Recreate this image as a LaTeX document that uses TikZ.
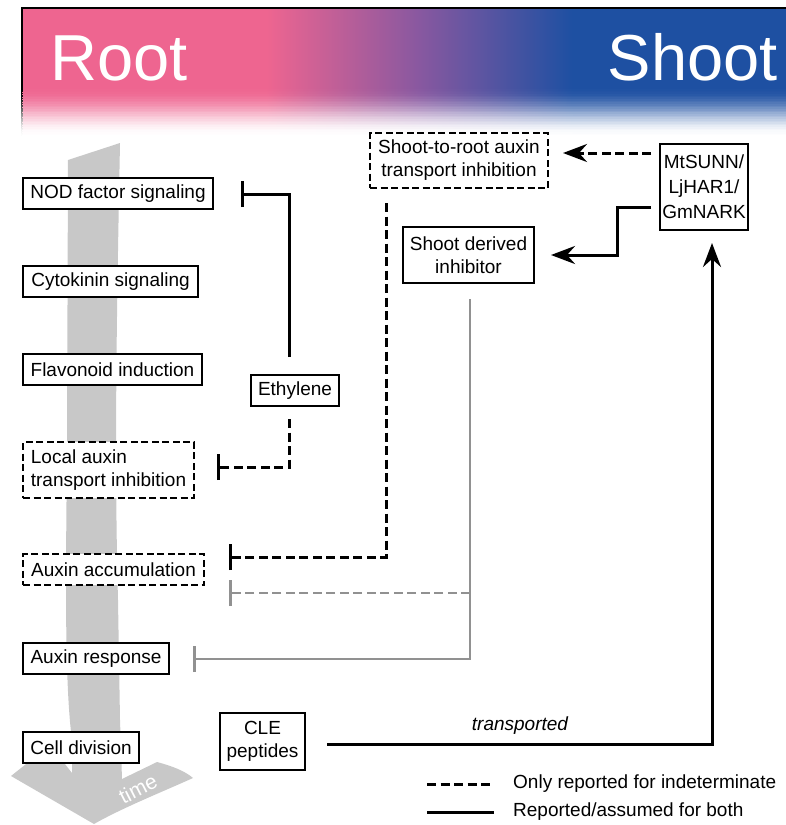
\documentclass[tikz,border=0pt]{standalone}
\usepackage{fontspec}
\setmainfont{Liberation Sans}
\usetikzlibrary{arrows.meta,calc}

\definecolor{rpink}{RGB}{238,101,144}
\definecolor{rpurple}{RGB}{136,88,160}
\definecolor{rblue}{RGB}{30,80,162}
\definecolor{tgray}{RGB}{200,200,200}
\definecolor{lgray}{RGB}{145,145,145}

\pgfdeclarehorizontalshading{rootshoot}{100bp}{color(0bp)=(rpink); color(25bp)=(rpink); color(41bp)=(rpink); color(51bp)=(rpurple); color(61bp)=(rblue); color(75bp)=(rblue); color(100bp)=(rblue)}

\tikzset{
  box/.style={draw, line width=2pt, fill=white, inner sep=0pt, font=\fontsize{19}{23}\selectfont, align=center},
  dbox/.style={box, dash pattern=on 7pt off 3.5pt},
  inh/.style={line width=3pt, -{Bar[width=26pt]}},
  ginh/.style={inh, draw=lgray, line width=2.5pt},
  act/.style={line width=3pt, -{Stealth[length=24pt,width=18pt,inset=8pt]}},
  dsh/.style={dash pattern=on 9pt off 4.5pt},
}

\begin{document}
\begin{tikzpicture}[x=1pt,y=-1pt]
\useasboundingbox (0,0) rectangle (786,825);

% banner
\fill[shading=rootshoot] (22,9) rectangle (786,89);
\foreach \i in {0,...,29}{
  \pgfmathtruncatemacro{\p}{round(50*(1+cos(180*(\i+0.5)/30)))}
  \pgfmathsetmacro{\ya}{88+\i*1.65}
  \pgfmathsetmacro{\yb}{\ya+2.3}
  \edef\tmpshade{\noexpand\pgfdeclarehorizontalshading{rsf\i}{100bp}{color(0bp)=(rpink!\p!white); color(25bp)=(rpink!\p!white); color(41bp)=(rpink!\p!white); color(51bp)=(rpurple!\p!white); color(61bp)=(rblue!\p!white); color(75bp)=(rblue!\p!white); color(100bp)=(rblue!\p!white)}}
  \tmpshade
  \fill[shading=rsf\i] (22,\ya) rectangle (786,\yb);
  \fill[black!\p!white] (20.75,\ya) rectangle (23.25,\yb);
}
\draw[line width=2.5pt] (22,90) -- (22,8) -- (786,8);
\node[anchor=base west, text=white, font=\fontsize{65}{65}\selectfont, inner sep=0pt] (root) at (50,80) {Root};
\node[anchor=base east, text=white, font=\fontsize{65}{65}\selectfont, inner sep=0pt] (shoot) at (778,80) {Shoot};

% time arrow
\fill[tgray] (68,160) -- (120,143) .. controls (117,300) and (114,450) .. (118,600)
  -- (120,720) -- (122,779) -- (157,762) .. controls (172,766) and (185,771) .. (193,778)
  .. controls (162,792) and (122,808) .. (94,824) -- (11,776) -- (50,745) -- (72,773)
  -- (72,740) .. controls (64,680) and (66,560) .. (67,450) -- cycle;
\node[rotate=27, text=white, font=\fontsize{21}{21}\selectfont, inner sep=0pt] (time) at (138,789) {time};

% root boxes
\node[box, minimum width=190pt, minimum height=31pt] (nod) at (118,193.5) {NOD factor signaling};
\node[box, minimum width=175pt, minimum height=31pt] (cyt) at (110.5,281.5) {Cytokinin signaling};
\node[box, minimum width=179pt, minimum height=31pt] (fla) at (112.5,369.5) {Flavonoid induction};
\node[box, minimum width=88pt, minimum height=31pt] (eth) at (295,390.5) {Ethylene};
\node[dbox, inner xsep=4pt, align=left, minimum width=171pt, minimum height=56pt] (loc) at (108.5,470) {Local auxin\\transport inhibition};
\node[dbox, minimum width=181pt, minimum height=31pt] (acc) at (113.5,569.5) {Auxin accumulation};
\node[box, minimum width=146pt, minimum height=31pt] (resp) at (96,658.5) {Auxin response};
\node[box, minimum width=116pt, minimum height=31pt] (cell) at (81,747.5) {Cell division};
\node[box, minimum width=85pt, minimum height=57pt] (cle) at (262.5,741.5) {CLE\\peptides};

% shoot boxes
\node[dbox, minimum width=178pt, minimum height=55pt] (s2r) at (459,160.5) {Shoot-to-root auxin\\transport inhibition};
\node[box, minimum width=88pt, minimum height=86pt, font=\fontsize{19}{25}\selectfont] (sunn) at (704,187) {MtSUNN/\\LjHAR1/\\GmNARK};
\node[box, minimum width=131pt, minimum height=56pt] (sdi) at (468.5,255) {Shoot derived\\inhibitor};

% connector end points
\coordinate (tNOD) at (241,194);
\coordinate (tLoc) at (217,467);
\coordinate (tAcc) at (229,557);
\coordinate (tAcc2) at (229,593);
\coordinate (tResp) at (193,659);
\coordinate (gj) at (470,593);

% connectors
\draw[inh, shorten <=17pt] ([xshift=-6pt]eth.north) |- (tNOD);
\draw[inh, dsh, shorten <=12pt] ([xshift=-6pt]eth.south) |- (tLoc);
\draw[inh, dsh, shorten <=14pt] ([xshift=-73pt]s2r.south) |- (tAcc);
\draw[ginh, shorten <=15pt] ([xshift=1.5pt]sdi.south) |- (tResp);
\draw[ginh, dsh] (gj) -- (tAcc2);
\draw[act, dsh] ([xshift=-8pt,yshift=34pt]sunn.west) -- ([xshift=14pt,yshift=7.5pt]s2r.east);
\draw[act] ([xshift=-8pt,yshift=-20pt]sunn.west) -| ([xshift=82pt]sdi.east) -- ([xshift=16pt]sdi.east);
\draw[act] ([xshift=21pt,yshift=-2.5pt]cle.east) -| ([xshift=8pt,yshift=-12pt]sunn.south);
\node[font=\fontsize{19}{23}\selectfont\itshape, inner sep=0pt] (tr) at (520,726) {transported};

% legend
\coordinate (l1a) at (427,784); \coordinate (l1b) at (494,784);
\coordinate (l2a) at (427,812); \coordinate (l2b) at (494,812);
\draw[line width=3pt, dsh] (l1a) -- (l1b);
\draw[line width=3pt] (l2a) -- (l2b);
\node[anchor=west, font=\fontsize{19}{23}\selectfont, inner sep=0pt] (lt1) at (513,784) {Only reported for indeterminate};
\node[anchor=west, font=\fontsize{19}{23}\selectfont, inner sep=0pt] (lt2) at (513,812) {Reported/assumed for both};
\end{tikzpicture}
\end{document}
